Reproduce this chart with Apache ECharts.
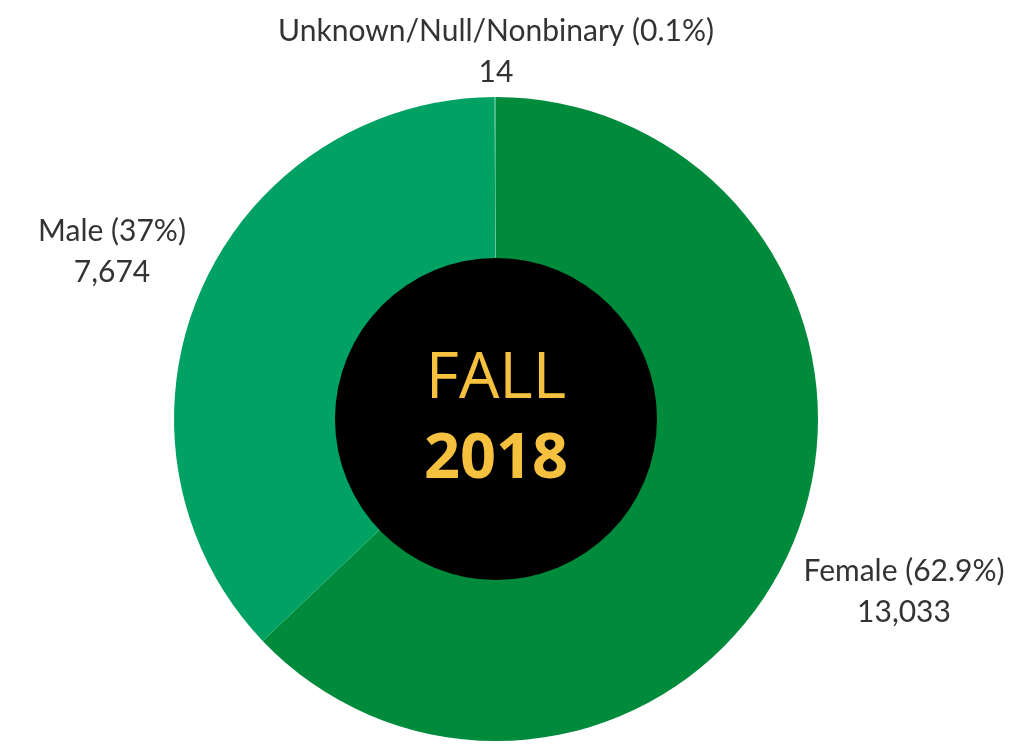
<!DOCTYPE html>
<html>
<head>
<meta charset="utf-8">
<title>Fall 2018 enrollment by gender</title>
<script src="https://cdn.jsdelivr.net/npm/echarts@6/dist/echarts.min.js"></script>
<style>
    html, body { margin: 0; padding: 0; background: #fff; }
    #chart { width: 1015px; height: 744px; }
</style>
</head>
<body>
<div id="chart"></div>
<script>
// data
var categories = ["Female", "Male", "Unknown/Null/Nonbinary"];
var counts = [13033, 7674, 14];
var sliceColors = ["#008a3b", "#00a264", "#4dbb85"];
var centerLines = ["FALL", "2018"];

var myChart = echarts.init(document.getElementById("chart"));
var total = counts.reduce(function(a, b){ return a + b; }, 0);

function pctText(v){
    var p = Math.round(v / total * 1000) / 10;
    return (p % 1 === 0 ? p.toFixed(0) : p.toFixed(1)) + "%";
}

var pieData = [];
for(var i = 0; i < categories.length; i++){
    pieData.push({
        name: categories[i],
        value: counts[i],
        itemStyle: { color: sliceColors[i] }
    });
}

// where each label sits (styling only)
var labelPos = [
    { x: 904, y: 592 },
    { x: 112, y: 252 },
    { x: 496, y: 52 }
];

var option = {
    animation: false,
    series: [{
        type: "pie",
        center: [496, 419],
        radius: [160, 322],
        startAngle: 90,
        clockwise: true,
        silent: true,
        data: pieData,
        label: {
            show: true,
            position: "outside",
            overflow: "none",
            fontFamily: "Lato",
            fontSize: 30,
            lineHeight: 41,
            color: "#333",
            formatter: function(p){
                return p.name + " (" + pctText(p.value) + ")\n" + p.value.toLocaleString("en-US");
            }
        },
        labelLine: { show: false },
        labelLayout: function(params){
            var lp = labelPos[params.dataIndex];
            return { x: lp.x, y: lp.y, align: "center", verticalAlign: "middle" };
        }
    }, {
        type: "pie",
        center: [496, 419],
        radius: [0, 161],
        silent: true,
        data: [{ value: 1, name: "center", itemStyle: { color: "#000" } }],
        label: {
            show: true,
            position: "center",
            formatter: "{a|" + centerLines[0] + "}\n{b|" + centerLines[1] + "}",
            rich: {
                a: { fontFamily: "Open Sans", fontSize: 64, color: "#f5c13e", lineHeight: 82 },
                b: { fontFamily: "Open Sans", fontWeight: "bold", fontSize: 63, color: "#f5c13e", lineHeight: 78 }
            }
        },
        labelLine: { show: false }
    }]
};

myChart.setOption(option);
window.onresize = myChart.resize;
</script>
</body>
</html>
